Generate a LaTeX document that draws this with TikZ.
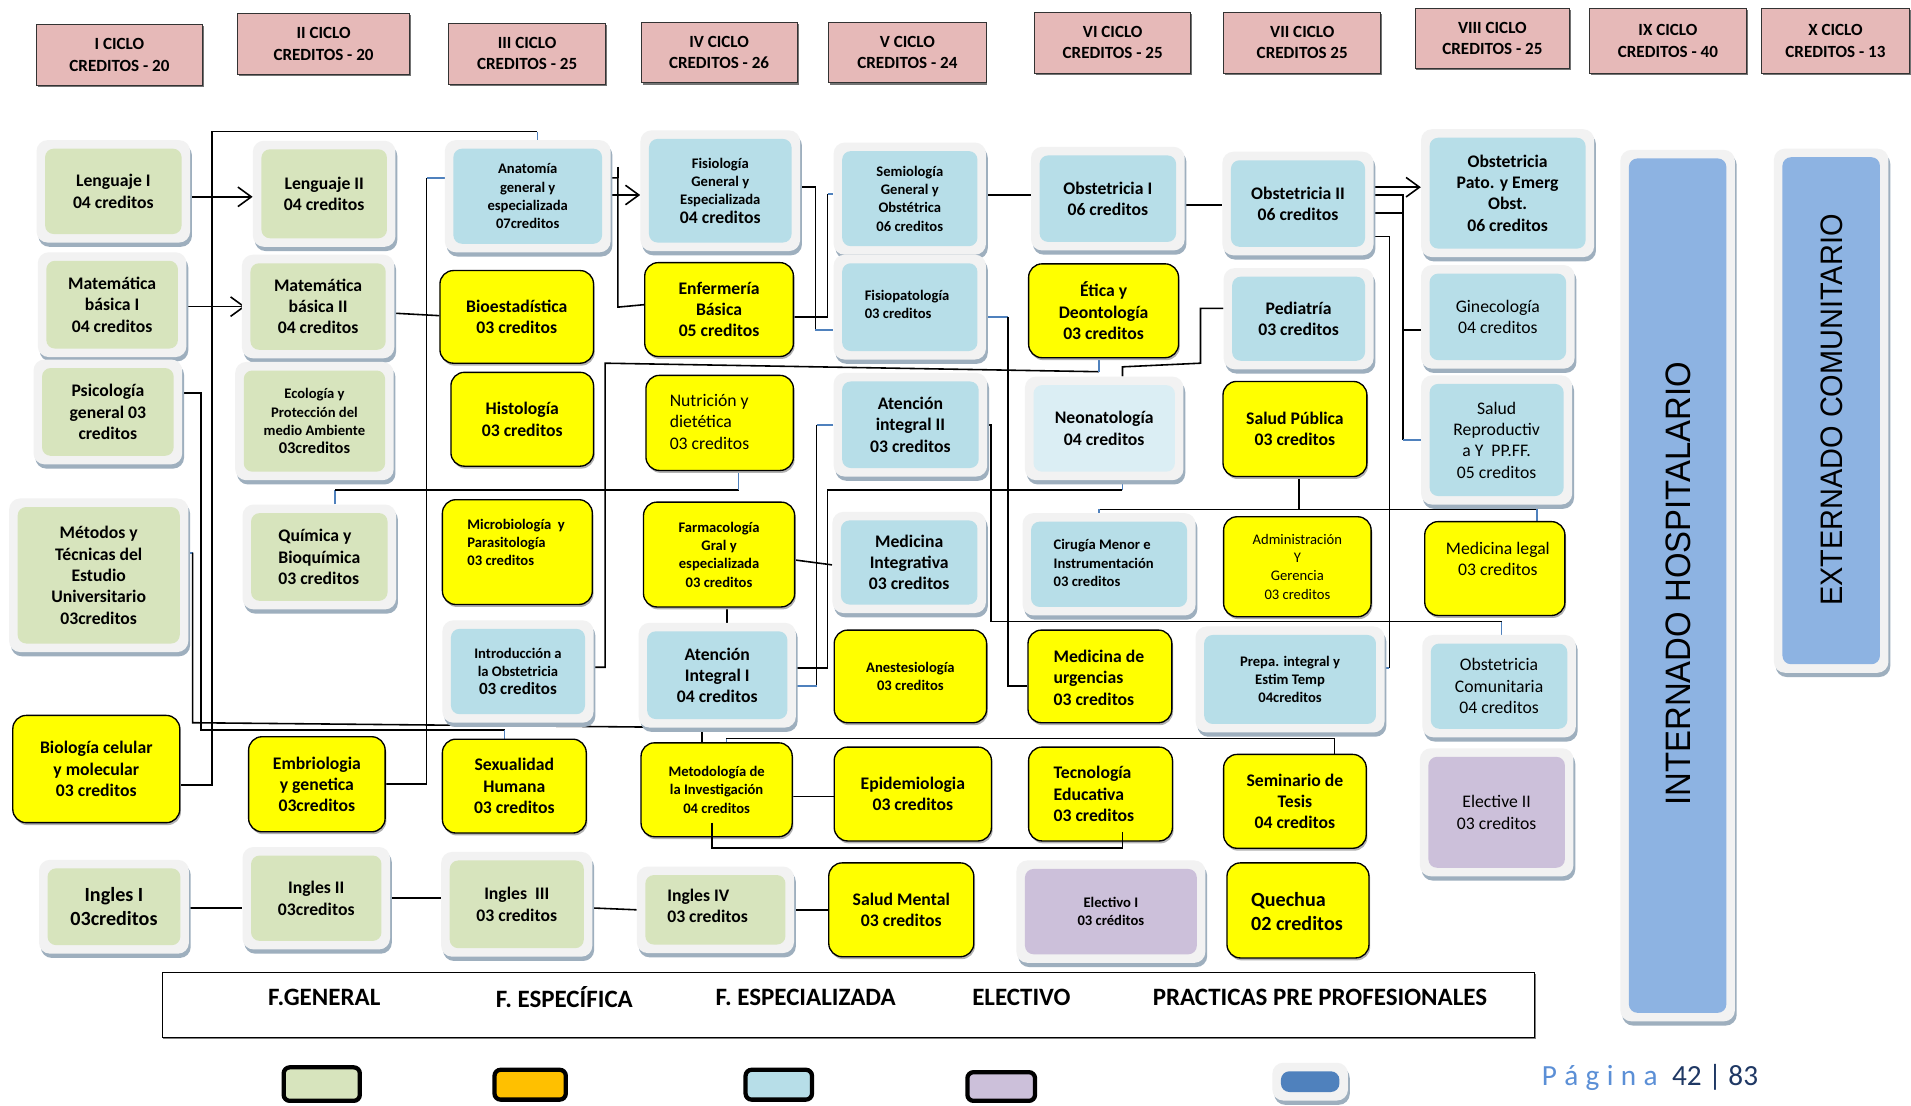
\documentclass[tikz,border=0pt]{standalone}
\usepackage{fontspec}
\usepackage{graphicx}
\setmainfont{Carlito}
\newfontfamily\arialf{Liberation Sans}
\usetikzlibrary{shadows,arrows.meta,calc,backgrounds}
\definecolor{greenC}{HTML}{D7E4BD}
\definecolor{blueC}{HTML}{B7DEE8}
\definecolor{neoC}{HTML}{DBEEF4}
\definecolor{purpleC}{HTML}{CCC0DA}
\definecolor{yellowC}{HTML}{FFFF00}
\definecolor{headC}{HTML}{E6B9B8}
\definecolor{frameC}{HTML}{F2F2F2}
\definecolor{shadowC}{HTML}{9EAFBE}
\definecolor{practC}{HTML}{8DB3E2}
\definecolor{lineB}{HTML}{4F81BD}
\definecolor{orangeC}{HTML}{FFC000}
\definecolor{lgBlue}{HTML}{4F81BD}
\definecolor{pagC}{HTML}{5B8FD6}
\definecolor{pagD}{HTML}{1F3864}
\newcommand\ftB{\fontsize{14.5}{17.5}\selectfont\bfseries}
\newcommand\ftS{\fontsize{12}{15}\selectfont\bfseries}
\newcommand\ftR{\fontsize{14.5}{17.5}\selectfont}
\newcommand\ftRs{\fontsize{12}{15}\selectfont}
\newcommand\ftL{\fontsize{16.5}{20}\selectfont\bfseries}
\newcommand\ftH{\fontsize{14}{17.5}\selectfont\bfseries}
\newcommand\ftG{\fontsize{20.5}{24}\selectfont\bfseries}
\tikzset{
  frm/.style={fill=frameC, draw=none, rounded corners=9pt, inner sep=0pt,
    drop shadow={shadow xshift=1.5pt, shadow yshift=-3.5pt, fill=shadowC, opacity=1}},
  inbox/.style={rounded corners=7pt, draw=none, inner sep=1pt, align=center, text=black},
  ybox/.style={fill=yellowC, draw=black, line width=1.1pt, rounded corners=11pt, align=center, inner sep=1pt,
    drop shadow={shadow xshift=1pt, shadow yshift=-2pt, fill=black!30, opacity=1}},
  hdbox/.style={fill=headC, draw=black!80, line width=0.7pt, align=center, font=\ftH,
    drop shadow={shadow xshift=1.2pt, shadow yshift=-1.5pt, fill=black!55, opacity=1}},
  conn/.style={draw=black, line width=1.3pt},
  connb/.style={draw=lineB, line width=1.3pt},
  arr/.style={conn, -{Straight Barb[length=11pt,width=16pt]}},
  lsw/.style={draw=black, line width=3.5pt, rounded corners=5pt},
  lgtxt/.style={font=\ftG},
}
\newcommand\FNode[8]{%
  \node[frm, minimum width=#4pt, minimum height=#5pt] (#1) at (#2,#3) {};
  \node[inbox, fill=#6, minimum width=#4pt-14pt, minimum height=#5pt-14pt, #7] (#1-in) at (#2,#3) {#8};}
\newcommand\YNode[7]{%
  \node[ybox, minimum width=#4pt, minimum height=#5pt, #6] (#1) at (#2,#3) {#7};}
\begin{document}
\begin{tikzpicture}[x=1pt,y=-1pt]
\useasboundingbox (0,0) rectangle (1568,907);
% headers
\node[hdbox, minimum width=136pt, minimum height=50pt] (h1) at (98,45) {I CICLO\\CREDITOS - 20};
\node[hdbox, minimum width=141pt, minimum height=50pt] (h2) at (265.5,36) {II CICLO\\CREDITOS - 20};
\node[hdbox, minimum width=129pt, minimum height=50pt] (h3) at (432.5,44) {III CICLO\\CREDITOS - 25};
\node[hdbox, minimum width=128pt, minimum height=50pt] (h4) at (590,43) {IV CICLO\\CREDITOS - 26};
\node[hdbox, minimum width=129pt, minimum height=50pt] (h5) at (744.5,43) {V CICLO\\CREDITOS - 24};
\node[hdbox, minimum width=128pt, minimum height=50pt] (h6) at (913,35) {VI CICLO\\CREDITOS - 25};
\node[hdbox, minimum width=129pt, minimum height=50pt] (h7) at (1068.5,35) {VII CICLO\\CREDITOS 25};
\node[hdbox, minimum width=127pt, minimum height=49pt] (h8) at (1224.5,31.5) {VIII CICLO\\CREDITOS - 25};
\node[hdbox, minimum width=129pt, minimum height=53pt] (h9) at (1368.5,33.5) {IX CICLO\\CREDITOS - 40};
\node[hdbox, minimum width=121pt, minimum height=53pt] (h10) at (1506,33.5) {X CICLO\\CREDITOS - 13};
% column 1
\FNode{len1}{93}{157}{126}{84}{greenC}{font=\ftB}{Lenguaje I\\04 creditos}
\FNode{mat1}{92}{250}{122}{86}{greenC}{font=\ftB}{Matemática\\básica I\\04 creditos}
\FNode{psi}{88.5}{338}{122}{86}{greenC}{font=\ftB}{Psicología\\general 03\\creditos}
\FNode{met}{81}{472}{147}{126}{greenC}{font=\ftB}{Métodos y\\Técnicas del\\Estudio\\Universitario\\03creditos}
\YNode{bio}{79}{631}{137}{88}{font=\ftB}{Biología celular\\y molecular\\03 creditos}
\FNode{ing1}{93.5}{744}{123}{77}{greenC}{font=\ftL}{Ingles I\\03creditos}
% column 2
\FNode{len2}{266}{159}{117}{87}{greenC}{font=\ftB}{Lenguaje II\\04 creditos}
\FNode{mat2}{261}{251.5}{125}{85}{greenC}{font=\ftB}{Matemática\\básica II\\04 creditos}
\FNode{eco}{258}{345.5}{130}{97}{greenC}{font=\ftS}{Ecología y\\Protección del\\medio Ambiente\\{\fontsize{13.5}{15}\selectfont 03creditos}}
\FNode{qui}{262}{457}{126}{86}{greenC}{font=\ftB, align=left}{Química y\\Bioquímica\\03 creditos}
\YNode{emb}{260}{643.5}{112}{78}{font=\ftB}{Embriologia\\y genetica\\03creditos}
\FNode{ing2}{259.5}{737}{121}{84}{greenC}{font=\ftB}{Ingles II\\03creditos}
% column 3
\FNode{ana}{433}{161}{136}{92}{blueC}{font=\ftS}{Anatomía\\general y\\especializada\\07creditos}
\YNode{bioe}{424}{260}{126}{76}{font=\ftB}{Bioestadística\\03 creditos}
\YNode{his}{428.5}{344}{117}{77}{font=\ftB}{Histología\\03 creditos}
\YNode{mic}{424.5}{453}{123}{86}{}{}
\node[anchor=west, align=left, font=\ftS] (mic-t) at (380,445) {Microbiología\ \ y\\Parasitología\\03 creditos};
\FNode{intro}{425}{551}{124}{84}{blueC}{font=\ftS}{Introducción a\\la Obstetricia\\{\fontsize{14}{15}\selectfont 03 creditos}}
\YNode{sex}{422}{645}{118}{77}{font=\ftB}{Sexualidad\\Humana\\03 creditos}
\FNode{ing3}{424}{742}{124}{86}{greenC}{font=\ftB}{Ingles\ \ III\\03 creditos}
% column 4
\FNode{fis}{591}{156.5}{131}{99}{blueC}{font=\ftS}{Fisiología\\General y\\Especializada\\{\ftB 04 creditos}}
\YNode{enf}{590}{254}{122}{77}{font=\ftB}{Enfermería\\Básica\\05 creditos}
\YNode{nut}{590.5}{347}{121}{78}{}{}
\node[anchor=west, align=left, font=\ftR] (nut-t) at (546,346) {Nutrición y\\dietética\\03 creditos};
\YNode{far}{590}{455}{124}{86}{font=\ftS}{Farmacología\\Gral y\\especializada\\03 creditos}
\FNode{ai1}{588.5}{554}{129}{86}{blueC}{font=\ftB}{Atención\\Integral I\\04 creditos}
\YNode{meto}{588}{648}{124}{77}{font=\ftS}{Metodología de\\la Investigación\\04 creditos}
\FNode{ing4}{587}{746.5}{129}{71}{greenC}{}{}
\node[anchor=west, align=left, font=\ftB] (ing4-t) at (544,743.5) {Ingles IV\\03 creditos};
% column 5
\FNode{sem}{746.5}{163}{125}{92}{blueC}{font=\ftS}{Semiología\\General y\\Obstétrica\\06 creditos}
\FNode{fisp}{746.5}{252}{125}{86}{blueC}{}{}
\node[anchor=west, align=left, font=\ftS] (fisp-t) at (706,250) {Fisiopatología\\03 creditos};
\FNode{ai2}{747}{348.5}{126}{85}{blueC}{font=\ftB}{Atención\\integral II\\03 creditos}
\FNode{medi}{746}{461.5}{126}{83}{blueC}{font=\ftB}{Medicina\\Integrativa\\03 creditos}
\YNode{ane}{747}{555}{125}{76}{font=\ftS}{Anestesiología\\03 creditos}
\YNode{epi}{749}{651.5}{129}{77}{font=\ftB}{Epidemiologia\\03 creditos}
\YNode{smen}{739.5}{746.5}{119}{77}{font=\ftB}{Salud Mental\\03 creditos}
% column 6
\FNode{ob1}{909}{163}{126}{85}{blueC}{font=\ftB}{Obstetricia I\\06 creditos}
\YNode{eti}{905.5}{255}{123}{77}{font=\ftB}{Ética y\\Deontología\\03 creditos}
\FNode{neo}{906}{351.5}{130}{85}{neoC}{font=\ftB}{Neonatología\\04 creditos}
\FNode{cir}{910}{463}{142}{84}{blueC}{}{}
\node[anchor=west, align=left, font=\ftS] (cir-t) at (861,462) {Cirugía Menor e\\Instrumentación\\03 creditos};
\YNode{murg}{902.5}{555}{118}{76}{}{}
\node[anchor=west, align=left, font=\ftB] (murg-t) at (861,556) {Medicina de\\urgencias\\03 creditos};
\YNode{tec}{903}{651.5}{118}{77}{}{}
\node[anchor=west, align=left, font=\ftB] (tec-t) at (861,651.5) {Tecnología\\Educativa\\03 creditos};
\FNode{el1}{911.5}{748}{155}{84}{purpleC}{font=\ftS}{Electivo I\\03 créditos}
% column 7
\FNode{ob2}{1065}{167}{124}{85}{blueC}{font=\ftB}{Obstetricia II\\06 creditos}
\FNode{ped}{1065.5}{261.5}{123}{83}{blueC}{font=\ftB}{Pediatría\\03 creditos}
\YNode{spub}{1062.5}{352}{118}{78}{font=\ftB}{Salud Pública\\03 creditos}
\YNode{adm}{1064.5}{465}{121}{82}{font=\ftRs}{Administración\\Y\\Gerencia\\03 creditos}
\FNode{prep}{1058.5}{557.5}{155}{87}{blueC}{font=\ftS}{Prepa. integral y\\Estim Temp\\04creditos}
\YNode{sem2}{1062.5}{657.5}{117}{77}{font=\ftB}{Seminario de\\Tesis\\04 creditos}
\YNode{que}{1065}{747}{116.5}{78}{}{}
\node[anchor=west, align=left, font=\ftL] (que-t) at (1023,748) {Quechua\\02 creditos};
% column 8
\FNode{obp}{1237}{158.5}{142}{105}{blueC}{font=\ftB}{Obstetricia\\Pato. y Emerg\\Obst.\\06 creditos}
\FNode{gin}{1229}{260}{126}{85}{blueC}{font=\ftR}{Ginecología\\04 creditos}
\FNode{sre}{1228}{361}{124}{106}{blueC}{font=\ftR}{Salud\\Reproductiv\\a Y\ \ PP.FF.\\05 creditos}
\YNode{mleg}{1226.5}{466.5}{115}{77}{}{}
\node[align=center, font=\ftR] (mleg-t) at (1229,458.5) {Medicina legal\\03 creditos};
\FNode{obc}{1230}{563}{126}{84}{blueC}{font=\ftR}{Obstetricia\\Comunitaria\\04 creditos}
\FNode{el2}{1228}{666.5}{126}{105}{purpleC}{font=\ftR}{Elective II\\03 creditos}
% practicas
\FNode{inh}{1376.5}{480.5}{94}{715}{practC}{}{}
\node[rotate=90, font=\arialf\fontsize{29}{29}\selectfont] (inh-t) at (1377,479) {\scalebox{0.93}[1]{INTERNADO HOSPITALARIO}};
\FNode{ext}{1502.5}{337}{94}{430}{practC}{}{}
\node[rotate=90, font=\arialf\fontsize{25.5}{25.5}\selectfont] (ext-t) at (1503,336.5) {\scalebox{0.93}[1]{EXTERNADO COMUNITARIO}};
% legend
\node[draw=black, line width=0.8pt, fill=white, minimum width=1126pt, minimum height=53pt,
  drop shadow={shadow xshift=1pt, shadow yshift=-1.5pt, fill=black!50, opacity=1}] (leg) at (696,824.5) {};
\node[lgtxt] (lg1) at (266,818) {F.GENERAL};
\node[lgtxt] (lg2) at (463,818) {F. ESPECÍFICA};
\node[lgtxt] (lg3) at (661,818) {F. ESPECIALIZADA};
\node[lgtxt] (lg4) at (838,818) {ELECTIVO};
\node[lgtxt] (lg5) at (1083,818) {PRACTICAS PRE PROFESIONALES};
\node[lsw, fill=greenC, minimum width=62.5pt, minimum height=27.5pt] (s1) at (264,889.5) {};
\node[lsw, fill=orangeC, minimum width=58.5pt, minimum height=24.5pt] (s2) at (435,890) {};
\node[lsw, fill=blueC, minimum width=54.5pt, minimum height=24.5pt] (s3) at (639,890) {};
\node[lsw, fill=purpleC, minimum width=55.5pt, minimum height=23.5pt] (s4) at (821.5,891.5) {};
\FNode{s5}{1075}{887.5}{62}{31}{lgBlue}{}{}
\node[anchor=west, inner sep=0pt, font=\fontsize{24}{24}\selectfont] (pag) at (1265,884) {\textcolor{pagC}{P\hspace{6pt}á\hspace{6pt}g\hspace{6pt}i\hspace{6pt}n\hspace{6pt}a}\hspace{12pt}\textcolor{pagD}{42 | 83}};
% connectors
\begin{pgfonlayer}{background}
\fill[white] (0,0) rectangle (1568,907);
\draw[arr] ([yshift=-4.5pt]len1.east) -- ([yshift=-2.5pt]len2.west);
\draw[arr] ([yshift=-1.6pt]mat1.east) -- ([yshift=-0.1pt,xshift=3pt]mat2.west);
\coordinate (kA) at (441,108);
\draw[conn] ([yshift=-13pt]bio.east) -| (174,108) -- (kA);
\draw[connb] (kA) -- (kA |- ana.north);
\coordinate (kB) at (414,599);
\draw[conn] ([yshift=15.5pt]psi.east) -| (165,599) -- (kB);
\draw[connb] (kB) -- (kB |- sex.north);
\coordinate (kC) at (158,453.5);
\draw[connb] ([yshift=18.5pt]met.east) -- (kC);
\draw[conn] (kC) -- (158,593) -- (576,597) -- ($(meto.north)+(-12,0)$);
\coordinate (kD) at (350,146);
\draw[conn] (emb.east) -| (kD);
\draw[connb] (kD) -- (kD -| ana.west);
\draw[conn] ([yshift=-5.5pt]mat2.east) -- ([yshift=1pt]bioe.west);
\draw[arr] ([yshift=1pt]ana.east) -- ([yshift=-3.5pt]fis.west);
\draw[conn] ([yshift=15pt]ana.east) -| (507,252) -- ([yshift=4pt]enf.west);
\draw[conn] (507,137) -- (507,146);
\coordinate (kE) at (669,271);
\draw[conn] ([yshift=3pt]fis.east) -| (kE);
\draw[connb] (kE) -- (kE -| fisp.west);
\coordinate (kF) at (679,159);
\draw[conn] ([yshift=-6pt]enf.east) -| (kF);
\draw[connb] (kF) -- (kF -| sem.west);
\draw[conn] ([yshift=3pt]sem.east) -- ([yshift=3pt]ob1.west);
\draw[conn] ([yshift=-5pt]ob1.east) -- ([yshift=-1pt]ob2.west);
\coordinate (kG) at ([yshift=13.4pt]ob2.east);
\draw[arr] (kG) -- (kG -| obp.west);
\coordinate (kH) at (1151,361);
\draw[conn] ([yshift=7pt]ob2.east) -| (kH);
\draw[connb] (kH) -- (kH -| sre.west);
\draw[conn] ([yshift=-8pt]ob2.east) -- ++(24,0);
\coordinate (kI) at (1151,271);
\draw[conn] (kI) -- (kI -| gin.west);
\coordinate (kJ) at (1140,548);
\draw[conn] ([yshift=-27pt]ob2.east) -| (kJ);
\draw[connb] (kJ) -- (kJ -| prep.east);
\coordinate (kK) at (901.5,305);
\draw[conn] ([yshift=3.5pt]intro.east) -| (496.5,298) -- (kK);
\draw[connb] (kK) -- (kK |- eti.south);
\draw[conn] ([xshift=15pt]neo.north) -- (921,301) -- (985,298) |- ([yshift=8.5pt]ped.west);
\coordinate (kL) at (275,402);
\coordinate (kM) at (606,402);
\draw[connb] ([xshift=13pt]qui.north) -- (kL);
\draw[conn] (kL) -- (kM);
\draw[connb] (kM) -- (kM |- nut.south);
\coordinate (kN) at (921,402);
\draw[connb] ([xshift=15pt]neo.south) -- (kN);
\draw[conn] (kN) -- (679,402) |- ([yshift=6pt]ai1.east);
\coordinate (kO) at (670,348.5);
\coordinate (kP) at (670,563);
\draw[connb] (ai2.west) -- (kO);
\draw[conn] (kO) -- (kP);
\draw[connb] (kP) -- (kP -| ai1.east);
\coordinate (kQ) at (1232,510);
\draw[conn] (ai2.east) -| (813,510) -- (kQ);
\draw[connb] (kQ) -- (kQ |- obc.north);
\coordinate (kR) at (827,260);
\draw[connb] ([yshift=-8pt]fisp.east) -- (kR);
\draw[conn] (kR) |- ([yshift=-8pt]murg.west);
\draw[conn] ([yshift=-4.5pt]far.east) -- ([yshift=-2pt]medi.west);
\coordinate (kS) at ([xshift=6.5pt]far.south);
\draw[conn] (kS) -- (kS |- ai1.north);
\coordinate (kT) at (1066,418);
\coordinate (kU) at (901.5,418);
\coordinate (kV) at (1261,418);
\draw[conn] ([xshift=3.5pt]spub.south) -- (kT);
\draw[conn] (kU) -- (kV);
\draw[connb] (kU) -- (kU |- cir.north);
\draw[connb] (kV) -- (kV |- mleg.north);
\coordinate (kW) at (596,606);
\coordinate (kX) at (1095,606);
\draw[connb] ([xshift=8pt]meto.north) -- (kW);
\draw[conn] (kW) -- (kX) -- (kX |- sem2.north);
\draw[conn] ([yshift=-5.5pt]meto.east) -- ([yshift=-2pt]epi.west);
\draw[conn] ([yshift=-1pt]ing1.east) -- ([yshift=-8pt]ing2.west);
\draw[conn] (ing2.east) -- ([yshift=5pt]ing3.west);
\draw[conn] ([yshift=-3pt]ing3.east) -- (ing4.west);
\draw[conn] (ing4.east) -- (smen.west);
\end{pgfonlayer}
\draw[conn] ([xshift=-4pt,yshift=12pt]meto.south) -- (584,696) -| ([xshift=18pt,yshift=8pt]tec.south);
\end{tikzpicture}
\end{document}
